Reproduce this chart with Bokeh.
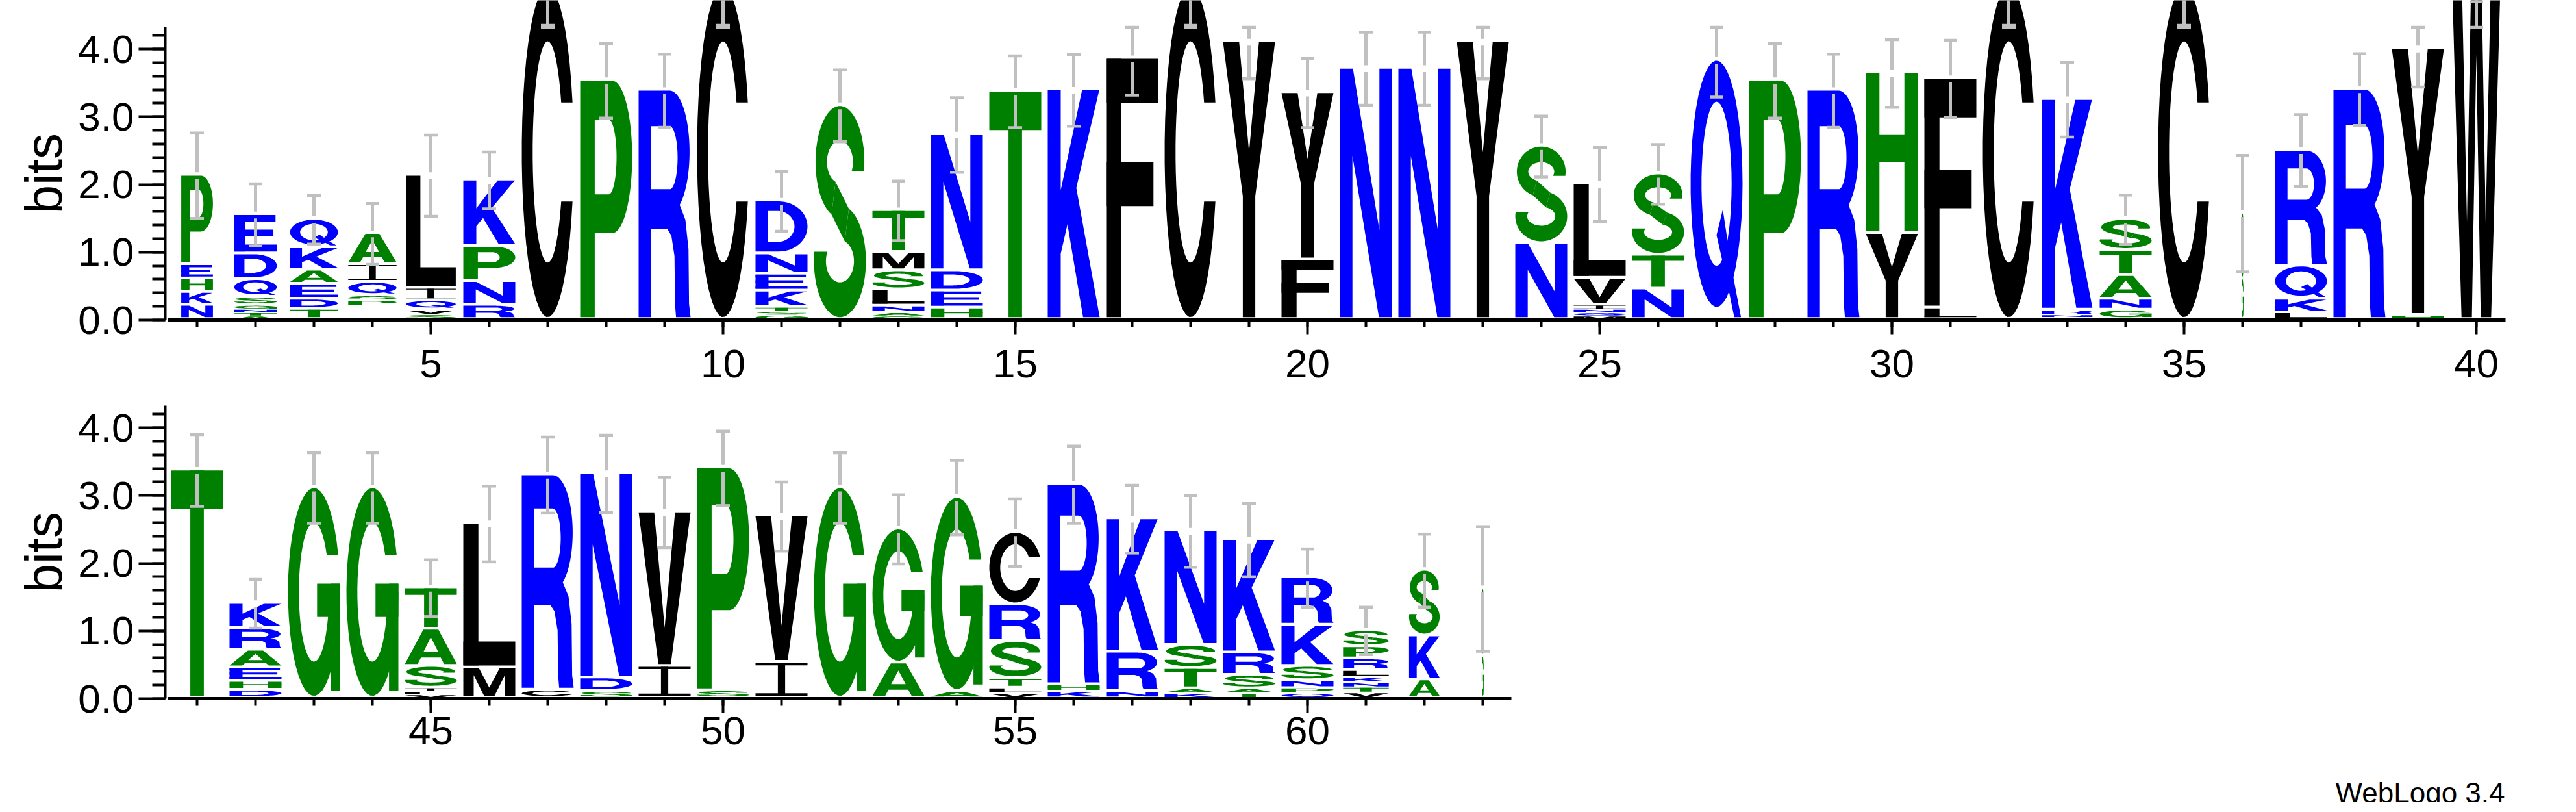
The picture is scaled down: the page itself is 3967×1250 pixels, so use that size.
import numpy as np
from bokeh.plotting import figure
from bokeh.layouts import column, row
from bokeh.models import SingleIntervalTicker, PrintfTickFormatter, ColumnDataSource
from bokeh.core.properties import value
from bokeh.embed import file_html
from bokeh.resources import INLINE

# ------------------------------------------------------------------ data
# letters of each stack, bottom -> top ("-" = undrawn remainder)
stack_letters = [
    "NKHEP", "ATNGSQDE", "TDEAKQ", "-PSQIA", "SVQIL", "RNPK", "C", "P", "R", "C",
    "GSTKEND", "S", "GANLSMT", "HEDN", "T", "K", "F", "C", "Y", "FY",
    "N", "N", "Y", "NS", "MQNIVL", "NTS", "Q", "P", "R", "YH",
    "LF", "C", "SNRK", "GNATS", "C", "GS", "LKQR", "R", "HY", "W",
    "T", "DHEARK", "G", "G", "VLISAT", "ML", "CR", "SDN", "IV", "SP",
    "IV", "G", "AG", "AG", "VLTSRC", "KHR", "NRK", "KATSN", "TASRK", "QPNSKR",
    "VTNKLRPS", "AKS", "GS",
]
# height (bits) of each letter, same order
stack_bits = [
    [0.21, 0.19, 0.20, 0.21, 1.32], [0.05, 0.05, 0.05, 0.06, 0.12, 0.26, 0.38, 0.58],
    [0.15, 0.15, 0.22, 0.21, 0.33, 0.42], [0.20, 0.08, 0.07, 0.20, 0.26, 0.46],
    [0.07, 0.07, 0.14, 0.18, 1.67], [0.21, 0.35, 0.52, 0.98], [4.92], [3.53], [3.385], [4.92],
    [0.06, 0.06, 0.06, 0.24, 0.25, 0.30, 0.78], [3.16],
    [0.05, 0.05, 0.10, 0.24, 0.28, 0.27, 0.62], [0.17, 0.25, 0.30, 2.01], [3.37], [3.39],
    [3.855], [4.92], [4.10], [0.88, 2.47],
    [3.71], [3.71], [4.10], [1.12, 1.44], [0.05, 0.05, 0.05, 0.06, 0.40, 1.39],
    [0.45, 0.50, 1.20], [3.83], [3.53], [3.385], [1.27, 2.37],
    [0.17, 3.39], [4.92], [0.03, 0.04, 0.07, 3.11], [0.14, 0.16, 0.35, 0.37, 0.46], [4.92],
    [0.60, 0.97], [0.10, 0.20, 0.49, 1.71], [3.40], [0.06, 3.94], [5.25],
    [3.37], [0.12, 0.13, 0.20, 0.26, 0.32, 0.37], [3.11], [3.11],
    [0.05, 0.05, 0.05, 0.32, 0.55, 0.61], [0.45, 2.13], [0.12, 3.18], [0.10, 0.20, 3.02],
    [0.47, 2.28], [0.11, 3.29],
    [0.53, 2.16], [3.11], [0.52, 1.98], [0.10, 2.87], [0.07, 0.08, 0.14, 0.55, 0.54, 1.07],
    [0.10, 0.10, 2.96], [0.10, 0.58, 1.97], [0.07, 0.07, 0.30, 0.34, 1.69],
    [0.07, 0.07, 0.20, 0.33, 1.67], [0.07, 0.08, 0.11, 0.21, 0.61, 0.70],
    [0.08, 0.08, 0.07, 0.08, 0.10, 0.17, 0.18, 0.24], [0.27, 0.65, 0.97], [0.62, 1.00],
]
# relative stack width (fraction of occupied sequences)
stack_width = [
    0.61, 0.82, 0.92, 0.93, 0.96, 1, 1, 1, 1, 1,
    1, 1, 1, 1, 1, 1, 1, 1, 1, 1,
    1, 1, 1, 1, 1, 1, 1, 1, 1, 1,
    1, 1, 0.97, 1, 1, 0.04, 1, 1, 1, 0.95,
    1, 1, 1, 1, 1, 1, 1, 1, 1, 1,
    1, 1, 1, 1, 1, 1, 1, 1, 1, 1,
    0.88, 0.59, 0.04,
]
# half-length of error bars (bits)
error_bits = [
    0.63, 0.46, 0.36, 0.45, 0.60, 0.42, 0.57, 0.55, 0.54, 0.57,
    0.44, 0.53, 0.44, 0.55, 0.53, 0.53, 0.535, 0.57, 0.54, 0.51,
    0.54, 0.54, 0.54, 0.45, 0.55, 0.44, 0.54, 0.55, 0.54, 0.50,
    0.57, 0.57, 0.55, 0.365, 0.57, 0.86, 0.53, 0.53, 0.56, 0.55,
    0.53, 0.36, 0.52, 0.52, 0.42, 0.56, 0.56, 0.57, 0.52, 0.55,
    0.51, 0.52, 0.51, 0.55, 0.50, 0.57, 0.50, 0.53, 0.54, 0.43,
    0.35, 0.54, 0.92,
]
panel_positions = [list(range(1, 41)), list(range(41, 64))]
y_label = "bits"
credit = "WebLogo 3.4"

# hydrophobicity colour scheme
letter_colors = {}
for aa in "RKDENQ":
    letter_colors[aa] = "#0000FF"
for aa in "SGHTAP":
    letter_colors[aa] = "#008000"
for aa in "YVMCLFIW":
    letter_colors[aa] = "#000000"

YMAX = float(np.log2(20))

# ------------------------------------------------------------------ glyph outlines (unit box)
def _arc(cx, cy, rx, ry, a0, a1, n=44):
    t = np.radians(np.linspace(a0, a1, n))
    return list(zip(cx + rx * np.cos(t), cy + ry * np.sin(t)))


def _rect(x0, y0, x1, y1):
    return [(x0, y0), (x1, y0), (x1, y1), (x0, y1)]


def _asd(v):
    return float(np.degrees(np.arcsin(np.clip(v, -1, 1))))


G = {}
G["A"] = [[[(0, 0), (0.355, 1), (0.645, 1), (1, 0), (0.755, 0), (0.69, 0.19), (0.31, 0.19), (0.245, 0)],
           [(0.36, 0.36), (0.64, 0.36), (0.5, 0.78)]]]
ao, ai = _asd(0.15 / 0.5), _asd(0.15 / 0.335)
G["C"] = [[_arc(.5, .5, .5, .5, ao, 360 - ao) + _arc(.5, .5, .29, .335, 360 - ai, ai)]]
G["D"] = [[[(0, 0), (0, 1), (0.45, 1)] + _arc(.45, .5, .55, .5, 90, -90) + [(0.45, 0)],
           [(0.24, 0.19), (0.24, 0.81), (0.42, 0.81)] + _arc(.42, .5, .33, .31, 90, -90) + [(0.42, 0.19)]]]
G["E"] = [[_rect(0, 0, 0.25, 1)], [_rect(0, 0.81, 0.97, 1)], [_rect(0, 0.42, 0.92, 0.6)], [_rect(0, 0, 1, 0.19)]]
G["F"] = [[_rect(0, 0, 0.29, 1)], [_rect(0, 0.83, 1, 1)], [_rect(0, 0.43, 0.91, 0.6)]]
ao, ai = _asd(0.176 / 0.5), _asd(0.176 / 0.335)
G["G"] = [[_arc(.5, .5, .5, .5, ao, 360) + _arc(.5, .5, .29, .335, 360, ai)],
          [_rect(0.56, 0.38, 1.0, 0.54)], [_rect(0.82, 0.024, 1.0, 0.54)]]
G["H"] = [[_rect(0, 0, 0.26, 1)], [_rect(0.74, 0, 1, 1)], [_rect(0, 0.44, 1, 0.61)]]
G["I"] = [[_rect(0, 0.92, 1, 1)], [_rect(0, 0, 1, 0.08)], [_rect(0.43, 0, 0.57, 1)]]
G["K"] = [[[(0, 0), (0, 1), (0.25, 1), (0.25, 0.56), (0.66, 1), (0.99, 1), (0.55, 0.57), (1.0, 0),
            (0.68, 0), (0.38, 0.41), (0.25, 0.28), (0.25, 0)]]]
G["L"] = [[_rect(0, 0, 0.29, 1)], [_rect(0, 0, 1, 0.17)]]
G["M"] = [[[(0, 0), (0, 1), (0.3, 1), (0.5, 0.3), (0.7, 1), (1, 1), (1, 0), (0.8, 0), (0.8, 0.75),
            (0.6, 0), (0.4, 0), (0.2, 0.75), (0.2, 0)]]]
G["N"] = [[[(0, 0), (0, 1), (0.25, 1), (0.76, 0.35), (0.76, 1), (1, 1), (1, 0), (0.75, 0),
            (0.24, 0.65), (0.24, 0)]]]
G["P"] = [[[(0, 0), (0, 1), (0.62, 1)] + _arc(.62, .678, .38, .322, 90, -90) + [(0.28, 0.356), (0.28, 0)],
           [(0.28, 0.52), (0.28, 0.835), (0.55, 0.835)] + _arc(.55, .6775, .15, .1575, 90, -90) + [(0.55, 0.52)]]]
G["Q"] = [[_arc(.5, .52, .5, .48, 0, 360), _arc(.5, .52, .29, .32, 0, 360)],
          [[(0.50, 0.32), (0.62, 0.42), (0.80, 0.18), (0.97, 0.0), (0.84, 0.0), (0.70, 0.14)]]]
G["R"] = [[[(0, 0), (0, 1), (0.6, 1)] + _arc(.6, .73, .38, .27, 90, -60) +
           [(0.9, 0.43), (0.96, 0.3), (0.97, 0.06), (1.0, 0.0), (0.72, 0.0), (0.70, 0.06), (0.69, 0.27),
            (0.63, 0.36), (0.55, 0.39), (0.24, 0.39), (0.24, 0)],
           [(0.24, 0.565), (0.24, 0.843), (0.6, 0.843)] + _arc(.6, .704, .15, .139, 90, -90) + [(0.6, 0.565)]]]
aou, aiu = _asd((0.69 - 0.735) / 0.265), _asd((0.69 - 0.735) / 0.10)
aol, ail = 180 - _asd(0.045 / 0.265), 180 - _asd(0.045 / 0.10)
up_end, lo_end = 250, 430
upper = _arc(.5, .735, .47, .265, aou, up_end) + _arc(.5, .735, .25, .10, up_end, aiu)
lower = _arc(.5, .265, .5, .265, aol, lo_end) + _arc(.5, .265, .27, .10, lo_end, ail)
uo = _arc(.5, .735, .47, .265, up_end, up_end, 1)[0]
ui = _arc(.5, .735, .25, .10, up_end, up_end, 1)[0]
lo_o = _arc(.5, .265, .5, .265, lo_end, lo_end, 1)[0]
lo_i = _arc(.5, .265, .27, .10, lo_end, lo_end, 1)[0]
G["S"] = [[upper], [lower], [[ui, lo_o, lo_i, uo]]]
G["T"] = [[_rect(0, 0.83, 1, 1)], [_rect(0.37, 0, 0.63, 1)]]
G["V"] = [[[(0, 1), (0.3, 1), (0.5, 0.24), (0.7, 1), (1, 1), (0.62, 0), (0.38, 0)]]]
G["W"] = [[[(0, 1), (0.2, 1), (0.31, 0.27), (0.40, 1), (0.60, 1), (0.69, 0.27), (0.80, 1), (1, 1),
            (0.80, 0), (0.59, 0), (0.5, 0.745), (0.41, 0), (0.2, 0)]]]
G["Y"] = [[[(0, 1), (0.31, 1), (0.5, 0.6), (0.69, 1), (1, 1), (0.62, 0.44), (0.62, 0), (0.38, 0), (0.38, 0.44)]]]

# ------------------------------------------------------------------ layout constants (pixels)
PX_COL = 90.0          # pixels per sequence position
PX_BIT = 104.25        # pixels per bit
LETTER_W = 80.0 / PX_COL
GAP = 0.04             # vertical gap under each glyph (bits)
FONT = "Liberation Sans"
SIDE_W = 116           # width of the strip holding the "bits" title
LEFT = 138             # left border of the logo figures
X0_OFFSET = 49.0 / PX_COL
FRAME_H = [492, 453]   # frame heights (frame top to the 0-bit line)
BORDER_B = [130, 104]  # space below each frame for the x axis
LABEL_STANDOFF = [24, 6]
FRAME_W = [3604, 2073]
RIGHT_B = [92, 1623]
CREDIT_H = 55


def x_window(positions, frame_width):
    x_start = positions[0] - X0_OFFSET
    return x_start, x_start + frame_width / PX_COL


def bits_strip(k):
    p = figure(width=SIDE_W, height=FRAME_H[k] + BORDER_B[k],
               x_range=(0, SIDE_W), y_range=(0, FRAME_H[k] / PX_BIT),
               output_backend="svg", toolbar_location=None,
               min_border_left=0, min_border_right=0, min_border_top=0,
               min_border_bottom=BORDER_B[k], x_axis_type=None, y_axis_type=None)
    p.outline_line_color = None
    p.grid.visible = False
    p.text(x=[67], y=[YMAX / 2], text=[y_label], angle=np.pi / 2, text_align="center",
           text_baseline="middle", text_font=value(FONT), text_font_size=value("80px"),
           text_color="black")
    return p


def build_panel(k):
    positions = panel_positions[k]
    x_start, x_end = x_window(positions, FRAME_W[k])
    p = figure(frame_width=FRAME_W[k], frame_height=FRAME_H[k],
               x_range=(x_start, x_end), y_range=(0, FRAME_H[k] / PX_BIT),
               output_backend="svg", toolbar_location=None,
               min_border_left=LEFT, min_border_right=RIGHT_B[k],
               min_border_top=0, min_border_bottom=BORDER_B[k])
    p.outline_line_color = None
    p.grid.visible = False

    xs, ys, cols = [], [], []
    ex, e_lo, e_hi, e_t = [], [], [], []
    for pos in positions:
        i = pos - 1
        w = LETTER_W * stack_width[i]
        x0, x1 = pos - w / 2, pos + w / 2
        cum = 0.0
        for aa, h in zip(stack_letters[i], stack_bits[i]):
            if aa in G:
                y0 = cum + min(GAP, 0.3 * h)
                y1 = cum + h
                for poly in G[aa]:
                    xs.append([[[x0 + u * (x1 - x0) for u, v in ring] for ring in poly]])
                    ys.append([[[y0 + v * (y1 - y0) for u, v in ring] for ring in poly]])
                    cols.append(letter_colors[aa])
            cum += h
        err = error_bits[i]
        ex.append(pos)
        e_t.append(cum)
        e_lo.append(cum - err)
        e_hi.append(min(cum + err, YMAX))

    src = ColumnDataSource(dict(xs=xs, ys=ys, color=cols))
    p.multi_polygons(xs="xs", ys="ys", fill_color="color", line_color=None, source=src)

    ex = np.array(ex, float)
    e_t, e_lo, e_hi = np.array(e_t), np.array(e_lo), np.array(e_hi)
    eb = 0.05
    cap = 10.5 / PX_COL
    gray = "#C0C0C0"
    p.segment(x0=ex, y0=e_lo, x1=ex, y1=e_t - eb, line_color=gray, line_width=5)
    p.segment(x0=ex, y0=e_t + eb, x1=ex, y1=e_hi, line_color=gray, line_width=5)
    p.segment(x0=ex - cap, y0=e_lo, x1=ex + cap, y1=e_lo, line_color=gray, line_width=4.5)
    p.segment(x0=ex - cap, y0=e_hi, x1=ex + cap, y1=e_hi, line_color=gray, line_width=4.5)

    xa = p.xaxis[0]
    xa.ticker = SingleIntervalTicker(interval=5, num_minor_ticks=5)
    xa.bounds = (positions[0] - 0.5, positions[-1] + 0.5)
    xa.axis_line_width = 5
    xa.major_tick_line_width = 4
    xa.minor_tick_line_width = 4
    xa.major_tick_out = 22
    xa.major_tick_in = 0
    xa.minor_tick_out = 11
    xa.minor_tick_in = 0
    xa.major_label_text_font = FONT
    xa.major_label_text_font_size = "62px"
    xa.major_label_text_color = "black"
    xa.major_label_standoff = LABEL_STANDOFF[k]

    ya = p.yaxis[0]
    ya.ticker = SingleIntervalTicker(interval=1, num_minor_ticks=5)
    ya.formatter = PrintfTickFormatter(format="%.1f")
    ya.bounds = (0, YMAX)
    ya.axis_line_width = 4
    ya.major_tick_line_width = 4
    ya.minor_tick_line_width = 4
    ya.major_tick_out = 41
    ya.major_tick_in = 0
    ya.minor_tick_out = 20
    ya.minor_tick_in = 0
    ya.major_label_text_font = FONT
    ya.major_label_text_font_size = "62px"
    ya.major_label_text_color = "black"
    ya.major_label_standoff = 7
    return p


top = build_panel(0)
bottom = build_panel(1)

# credit line, on the same horizontal scale as the top panel
cx0, cx1 = x_window(panel_positions[0], FRAME_W[0])
credit_fig = figure(frame_width=FRAME_W[0], height=CREDIT_H, x_range=(cx0, cx1), y_range=(0, CREDIT_H),
                    output_backend="svg", toolbar_location=None,
                    min_border_left=SIDE_W + LEFT, min_border_right=RIGHT_B[0],
                    min_border_top=0, min_border_bottom=0, x_axis_type=None, y_axis_type=None)
credit_fig.outline_line_color = None
credit_fig.grid.visible = False
credit_fig.text(x=[cx1 - 1.0 / PX_COL], y=[14], text=[credit], text_align="right",
                text_baseline="alphabetic", text_font=value(FONT), text_font_size=value("44px"),
                text_color="black")

layout = column(row(bits_strip(0), top, spacing=0),
                row(bits_strip(1), bottom, spacing=0),
                credit_fig, spacing=0)
open("out.html", "w").write(file_html(layout, INLINE))
